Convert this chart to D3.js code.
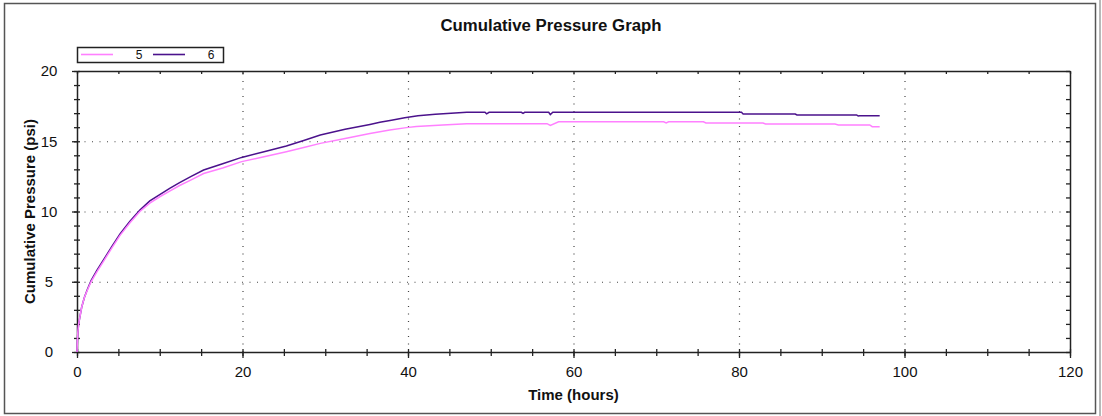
<!DOCTYPE html>
<html><head><meta charset="utf-8">
<script src="https://cdn.jsdelivr.net/npm/d3@7"></script>
<style>
body{margin:0;background:#fff}
svg{display:block}
text{font-family:"Liberation Sans",Arial,sans-serif}
</style>
</head><body>
<svg id="c" width="1102" height="416"></svg>
<script>
// ---- data ----
const seriesNames = ["5", "6"];
const hours5 = [0,0.05,0.1,0.2,0.35,0.57,0.9,1.25,1.7,2.4,3.2,4.2,5.2,6.4,7.6,8.8,10,11.2,12.4,13.8,15.3,17.6,19.9,22.6,25.3,27.4,29.4,32.4,35.4,37.8,39.8,41,44.2,47.1,56.8,57.2,58.2,70.9,71.2,71.5,75.7,76,82.9,83.2,91.6,92,95.8,96.1,97];
const psi5   = [0,0.8,1.4,2.0,2.5,3.2,3.9,4.4,5.0,5.7,6.45,7.4,8.3,9.2,10.0,10.6,11.05,11.45,11.85,12.25,12.7,13.1,13.55,13.9,14.25,14.55,14.85,15.2,15.55,15.8,15.97,16.05,16.16,16.25,16.25,16.12,16.39,16.39,16.3,16.39,16.39,16.3,16.3,16.23,16.23,16.16,16.16,16.04,16.04];
const hours6 = [0,0.05,0.1,0.2,0.35,0.57,0.9,1.25,1.7,2.4,3.2,4.2,5.2,6.4,7.6,8.8,10,11.2,12.4,13.8,15.3,17.6,19.9,22.6,25.3,27.4,29.4,32.4,35.4,36.6,38,39.6,41.2,43.3,47.1,49.3,49.5,49.8,53.7,53.9,54.1,57,57.2,57.5,80.3,80.5,86.8,87,94.2,94.4,94.6,97];
const psi6   = [0,0.8,1.4,2.0,2.5,3.2,3.9,4.45,5.08,5.8,6.55,7.5,8.4,9.3,10.1,10.75,11.2,11.65,12.05,12.5,12.95,13.4,13.85,14.25,14.66,15.05,15.45,15.85,16.2,16.35,16.5,16.68,16.82,16.92,17.06,17.06,16.95,17.06,17.06,16.98,17.06,17.06,16.9,17.06,17.06,16.94,16.94,16.87,16.87,16.8,16.82,16.82];
const xMajorTicks = [0,20,40,60,80,100,120];
const xMinorTicks = d3.range(0,121,5);
const yMajorTicks = [0,5,10,15,20];
const yMinorTicks = d3.range(0,21,1);
const xGrid = [20,40,60,80,100];
const yGrid = [5,10,15];
const colors = ["#ff80ff","#4b128c"];
const title = "Cumulative Pressure Graph";
const xTitle = "Time (hours)";
const yTitle = "Cumulative Pressure (psi)";

// ---- layout ----
const svg = d3.select("#c");
const L=77, R=1070, T=71, B=352;
const x = d3.scaleLinear().domain([0,120]).range([L,R]);
const y = d3.scaleLinear().domain([0,20]).range([B,T]);

// outer frame
svg.append("rect").attr("x",4.5).attr("y",3.5).attr("width",1091).attr("height",410)
  .attr("fill","#fff").attr("stroke","#555").attr("stroke-width",1.5);
svg.append("line").attr("x1",1100).attr("x2",1100).attr("y1",0).attr("y2",416)
  .attr("stroke","#b8b8b8").attr("stroke-width",2);

// title
svg.append("text").attr("x",551).attr("y",31).attr("text-anchor","middle")
  .attr("font-size",16.8).attr("font-weight","bold").attr("fill","#111").text(title);

// grid
const gridStyle = g => g.call(s=>s.select(".domain").remove())
  .selectAll("line").attr("stroke","#444").attr("stroke-dasharray","1,6.5").attr("stroke-width",1.2);
svg.append("g").attr("transform",`translate(0,${B})`)
  .call(d3.axisBottom(x).tickValues(xGrid).tickSize(-(B-T)).tickFormat(""))
  .call(gridStyle);
svg.append("g").attr("transform",`translate(${L},0)`)
  .call(d3.axisLeft(y).tickValues(yGrid).tickSize(-(R-L)).tickFormat(""))
  .call(gridStyle);

// axes
const axStyle = g => { g.select(".domain").attr("stroke","#222").attr("stroke-width",1.5);
  g.selectAll(".tick line").attr("stroke","#222").attr("stroke-width",1.3); };
const noDomain = g => { g.select(".domain").remove(); g.selectAll(".tick line").attr("stroke","#222").attr("stroke-width",1.3); };

// bottom
svg.append("g").attr("transform",`translate(0,${B})`)
  .call(d3.axisBottom(x).tickValues(xMinorTicks).tickSize(4).tickSizeOuter(0).tickFormat("")).call(axStyle);
svg.append("g").attr("transform",`translate(0,${B})`)
  .call(d3.axisTop(x).tickValues(xMinorTicks).tickSize(3).tickFormat("")).call(noDomain);
const bx = svg.append("g").attr("transform",`translate(0,${B})`)
  .call(d3.axisBottom(x).tickValues(xMajorTicks).tickSize(6).tickPadding(8).tickFormat(d3.format("d"))).call(noDomain);
bx.selectAll("text").attr("font-size",15).attr("fill","#111").attr("font-family","Liberation Sans, Arial, sans-serif");
// top
svg.append("g").attr("transform",`translate(0,${T})`)
  .call(d3.axisBottom(x).tickValues(xMinorTicks).tickSize(3).tickSizeOuter(0).tickFormat("")).call(axStyle);
// left
svg.append("g").attr("transform",`translate(${L},0)`)
  .call(d3.axisLeft(y).tickValues(yMinorTicks).tickSize(3).tickSizeOuter(0).tickFormat("")).call(axStyle);
svg.append("g").attr("transform",`translate(${L},0)`)
  .call(d3.axisRight(y).tickValues(yMinorTicks).tickSize(3).tickFormat("")).call(noDomain);
const ly = svg.append("g").attr("transform",`translate(${L},0)`)
  .call(d3.axisLeft(y).tickValues(yMajorTicks).tickSize(5).tickPadding(23).tickFormat(d3.format("d"))).call(noDomain);
ly.selectAll("text").attr("font-size",15).attr("fill","#111").attr("text-anchor","middle")
  .attr("font-family","Liberation Sans, Arial, sans-serif");
// right
svg.append("g").attr("transform",`translate(${R},0)`)
  .call(d3.axisLeft(y).tickValues(yMinorTicks).tickSize(4).tickSizeOuter(0).tickFormat("")).call(axStyle);

// axis titles
svg.append("text").attr("x",(L+R)/2).attr("y",400).attr("text-anchor","middle")
  .attr("font-size",15).attr("font-weight","bold").attr("fill","#111").text(xTitle);
svg.append("text").attr("transform",`translate(35,${(T+B)/2}) rotate(-90)`).attr("text-anchor","middle")
  .attr("font-size",15).attr("font-weight","bold").attr("fill","#111").text(yTitle);

// lines (series 6 first, series 5 on top)
const line = d3.line().x(d=>x(d[0])).y(d=>y(d[1]));
const data = [d3.zip(hours5,psi5), d3.zip(hours6,psi6)];
[1,0].forEach(i=>{
  svg.append("path").datum(data[i]).attr("d",line).attr("fill","none")
    .attr("stroke",colors[i]).attr("stroke-width",1.5);
});

// legend
const lg = svg.append("g");
lg.append("rect").attr("x",77.5).attr("y",47.5).attr("width",146).attr("height",15)
  .attr("fill","#fff").attr("stroke","#222").attr("stroke-width",1.5);
seriesNames.forEach((n,i)=>{
  const x0 = 81 + i*72;
  lg.append("line").attr("x1",x0).attr("x2",x0+32).attr("y1",54.5).attr("y2",54.5)
    .attr("stroke",colors[i]).attr("stroke-width",1.6);
  lg.append("text").attr("x",x0+58).attr("y",59).attr("text-anchor","middle")
    .attr("font-size",12).attr("fill","#111").text(n);
});
</script>
</body></html>
